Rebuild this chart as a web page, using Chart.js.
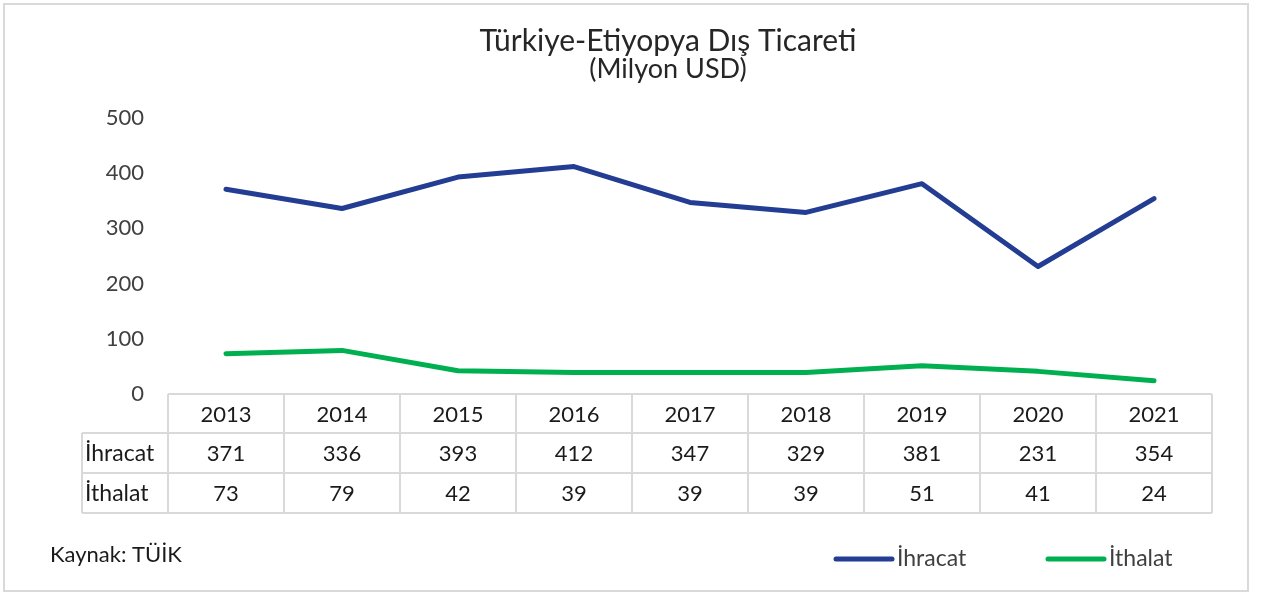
<!DOCTYPE html>
<html>
<head>
<meta charset="utf-8">
<script src="https://cdn.jsdelivr.net/npm/chart.js@4/dist/chart.umd.min.js"></script>
<style>
  body { margin: 0; background: #fff; }
  #wrap { width: 1263px; height: 594px; position: relative; }
</style>
</head>
<body>
<div id="wrap"><canvas id="chart"></canvas></div>
<script>
const years = ["2013", "2014", "2015", "2016", "2017", "2018", "2019", "2020", "2021"];
const ihracat = [371, 336, 393, 412, 347, 329, 381, 231, 354];
const ithalat = [73, 79, 42, 39, 39, 39, 51, 41, 24];
const yTicks = [0, 100, 200, 300, 400, 500];

const FONT = "Lato, 'Noto Sans', sans-serif";
const blue = "#233d93";
const green = "#00b050";
const gridGrey = "#d9d9d9";
const textCol = "#404040";

//draws title, data table, legend, source note and frame
const decor = {
    id: "decor",
    afterDraw(chart) {
        const ctx = chart.ctx;
        const x = chart.scales.x;
        const area = chart.chartArea;
        const band = x.getPixelForValue(1) - x.getPixelForValue(0);
        const left = x.getPixelForValue(0) - band / 2;
        const right = x.getPixelForValue(years.length - 1) + band / 2;
        const top = area.bottom;
        const rowH = [39, 40, 40];
        const labelLeft = 82;
        ctx.save();

        // frame
        ctx.strokeStyle = gridGrey;
        ctx.lineWidth = 2;
        ctx.strokeRect(4, 4, 1244, 587);

        // title
        ctx.fillStyle = "#262626";
        ctx.textAlign = "center";
        ctx.textBaseline = "alphabetic";
        ctx.font = "30px " + FONT;
        ctx.fillText("Türkiye-Etiyopya Dış Ticareti", 668, 51);
        ctx.font = "27px " + FONT;
        ctx.fillText("(Milyon USD)", 668, 78);

        // table grid
        ctx.strokeStyle = gridGrey;
        ctx.lineWidth = 2;
        const y1 = top, y2 = top + rowH[0], y3 = y2 + rowH[1], y4 = y3 + rowH[2];
        ctx.beginPath();
        ctx.moveTo(left, y1); ctx.lineTo(right, y1);
        ctx.moveTo(labelLeft, y2); ctx.lineTo(right, y2);
        ctx.moveTo(labelLeft, y3); ctx.lineTo(right, y3);
        ctx.moveTo(labelLeft, y4); ctx.lineTo(right, y4);
        ctx.moveTo(labelLeft, y2); ctx.lineTo(labelLeft, y4);
        for (let i = 0; i <= years.length; i++) {
            const px = left + i * band;
            ctx.moveTo(px, y1); ctx.lineTo(px, y4);
        }
        ctx.stroke();

        // table text
        ctx.fillStyle = "#1a1a1a";
        ctx.font = "22px " + FONT;
        ctx.textBaseline = "middle";
        ctx.textAlign = "center";
        years.forEach((yr, i) => {
            const cx = x.getPixelForValue(i);
            ctx.fillText(yr, cx, (y1 + y2) / 2 + 1);
            ctx.fillText(String(ihracat[i]), cx, (y2 + y3) / 2 + 1);
            ctx.fillText(String(ithalat[i]), cx, (y3 + y4) / 2 + 1);
        });
        ctx.textAlign = "left";
        ctx.font = "23px " + FONT;
        chart.data.datasets.forEach((ds, k) => {
            ctx.fillText(ds.label, labelLeft + 3, [(y2 + y3) / 2, (y3 + y4) / 2][k] + 1);
        });

        // legend
        const legendX = [836, 1048];
        ctx.lineCap = "round";
        ctx.lineWidth = 5;
        chart.data.datasets.forEach((ds, k) => {
            ctx.strokeStyle = ds.borderColor;
            ctx.beginPath();
            ctx.moveTo(legendX[k], 559);
            ctx.lineTo(legendX[k] + 56, 559);
            ctx.stroke();
            ctx.fillStyle = textCol;
            ctx.textAlign = "left";
            ctx.fillText(ds.label, legendX[k] + 61, 559);
        });

        // source
        ctx.font = "22px " + FONT;
        ctx.fillStyle = "#1a1a1a";
        ctx.fillText("Kaynak: TÜİK", 50, 555);
        ctx.restore();
    }
};

new Chart(document.getElementById("chart"), {
    type: "line",
    data: {
        labels: years,
        datasets: [
            { label: "İhracat", data: ihracat, borderColor: blue, backgroundColor: blue },
            { label: "İthalat", data: ithalat, borderColor: green, backgroundColor: green }
        ]
    },
    options: {
        responsive: true,
        maintainAspectRatio: false,
        animation: false,
        layout: { padding: { left: 0, right: 51, top: 118, bottom: 200 } },
        elements: {
            line: { borderWidth: 5, tension: 0, borderCapStyle: "round", borderJoinStyle: "round" },
            point: { radius: 0, hoverRadius: 0 }
        },
        plugins: {
            legend: { display: false },
            tooltip: { enabled: false }
        },
        scales: {
            x: {
                type: "category",
                offset: true,
                display: false
            },
            y: {
                min: 0,
                max: 500,
                afterFit(axis) { axis.width = 168; },
                afterBuildTicks(axis) { axis.ticks = yTicks.map(v => ({ value: v })); },
                grid: { display: false, drawTicks: false },
                border: { display: false },
                ticks: {
                    padding: 24,
                    color: textCol,
                    font: { family: FONT, size: 22 }
                }
            }
        }
    },
    plugins: [decor]
});
</script>
</body>
</html>
